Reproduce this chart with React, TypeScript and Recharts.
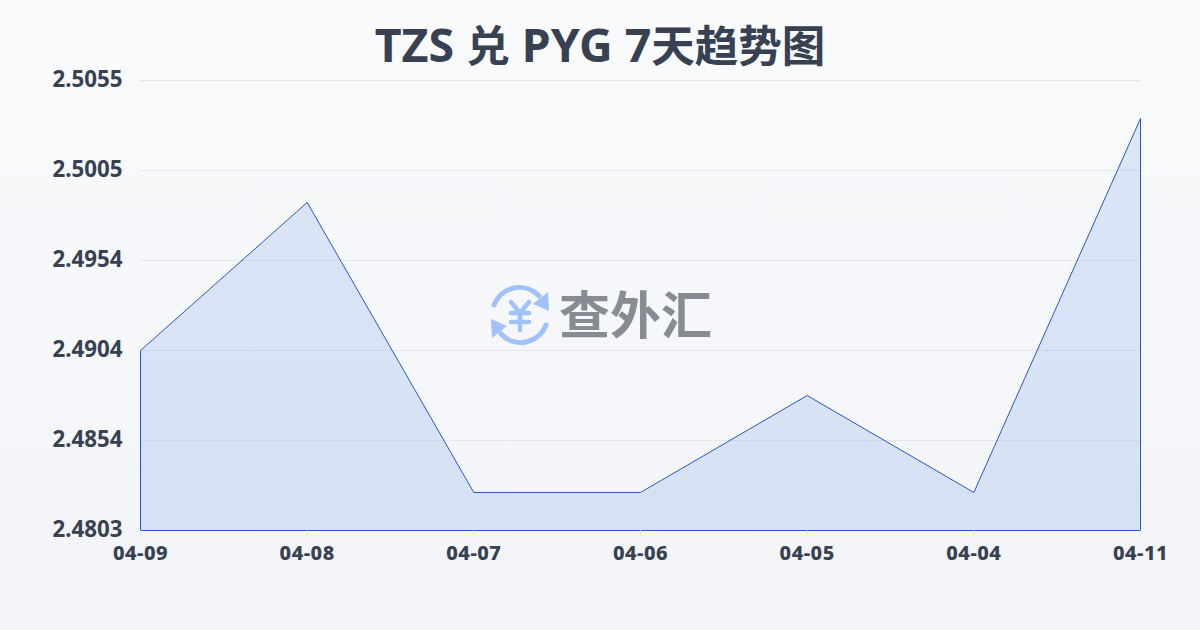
import { ComposedChart, Area, XAxis, YAxis, CartesianGrid, ReferenceLine } from "recharts";

const dates = ["04-09", "04-08", "04-07", "04-06", "04-05", "04-04", "04-11"];
const rates = [2.4904, 2.49869, 2.48245, 2.48245, 2.48788, 2.48245, 2.50339];
const yTicks = [2.48032, 2.48536, 2.4904, 2.49544, 2.50048, 2.50552];
const yMin = yTicks[0];
const yMax = yTicks[yTicks.length - 1];

const LINE = "#2558c4";
const TEXT = "#374151";
const FONT = "'Noto Sans', 'Noto Sans CJK SC', sans-serif";

const data = dates.map((date, i) => ({ date, range: [yMin, rates[i]] }));

function Logo() {
  return (
    <svg width={70} height={70} viewBox="0 0 70 70" style={{ position: "absolute", left: 485, top: 280 }}>
      <g fill="none" stroke="#9fc2fa" strokeWidth={5} strokeLinecap="round">
        <path d="M9 25 A27 27 0 0 1 54 16" />
        <path d="M61 45 A27 27 0 0 1 16 54" />
        <path d="M26 22 L35 33 L44 22 M35 33 L35 50 M26 33 L44 33 M26 42 L44 42" strokeWidth={4.5} />
      </g>
      <path d="M63 12 L64 31 L48 24 Z" fill="#9fc2fa" />
      <path d="M7 58 L6 39 L22 46 Z" fill="#9fc2fa" />
    </svg>
  );
}

export default function App() {
  return (
    <div
      style={{
        position: "fixed",
        left: 0,
        top: 0,
        width: 1200,
        height: 630,
        overflow: "hidden",
        background: "linear-gradient(180deg, #f8fafc 0%, #f2f4f7 100%)",
      }}
    >
      <div
        style={{
          position: "absolute",
          top: 14,
          left: 0,
          width: 1200,
          textAlign: "center",
          fontFamily: FONT,
          fontWeight: 700,
          fontSize: 46.5,
          lineHeight: "60px",
          color: TEXT,
        }}
      >
        TZS <span style={{ fontSize: 43.5 }}>兑</span> PYG 7<span style={{ fontSize: 43.5 }}>天趋势图</span>
      </div>
      <ComposedChart
        width={1200}
        height={630}
        data={data}
        margin={{ top: 80.5, right: 59.5, bottom: 0, left: 0 }}
        style={{ position: "absolute", left: 0, top: 0 }}
      >
        <CartesianGrid vertical={false} stroke="#e5e7eb" strokeWidth={1} />
        <XAxis
          dataKey="date"
          scale="point"
          padding={{ left: 0, right: 0 }}
          interval={0}
          height={99.5}
          axisLine={false}
          tickLine={{ stroke: "#e5e7eb" }}
          tickSize={5}
          tickMargin={10}
          tick={{ fontFamily: FONT, fontSize: 20, fontWeight: 800, letterSpacing: 0.5, fill: TEXT }}
        />
        <YAxis
          type="number"
          domain={[yMin, yMax]}
          ticks={yTicks}
          width={140.5}
          axisLine={false}
          tickLine={false}
          tickMargin={12}
          tickFormatter={(v: number) => v.toFixed(4)}
          tick={{ fontFamily: FONT, fontSize: 22.3, fontWeight: 700, fill: TEXT, dy: -1 }}
        />
        <Area
          type="linear"
          dataKey="range"
          stroke={LINE}
          strokeWidth={1}
          fill="#3b6fe0"
          fillOpacity={0.15}
          dot={false}
          activeDot={false}
          isAnimationActive={false}
        />
        <ReferenceLine
          segment={[
            { x: dates[0], y: yMin },
            { x: dates[0], y: rates[0] },
          ]}
          stroke={LINE}
        />
        <ReferenceLine
          segment={[
            { x: dates[dates.length - 1], y: yMin },
            { x: dates[dates.length - 1], y: rates[rates.length - 1] },
          ]}
          stroke={LINE}
        />
      </ComposedChart>
      <Logo />
      <div
        style={{
          position: "absolute",
          left: 559,
          top: 277,
          fontFamily: "'Noto Sans CJK SC', sans-serif",
          fontWeight: 700,
          fontSize: 51,
          lineHeight: "70px",
          color: "#868b94",
          whiteSpace: "nowrap",
        }}
      >
        查外汇
      </div>
    </div>
  );
}
